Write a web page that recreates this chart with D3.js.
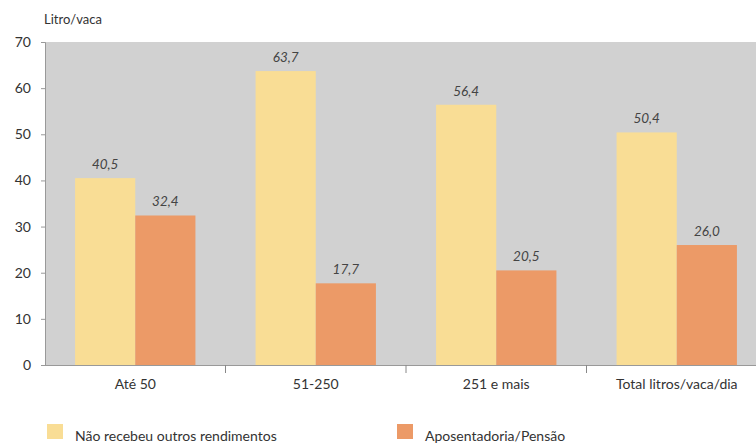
<!DOCTYPE html>
<html>
<head>
<meta charset="utf-8">
<script src="https://cdn.jsdelivr.net/npm/d3@7"></script>
<style>
  html, body { margin: 0; padding: 0; background: #fff; }
  svg { display: block; font-family: Lato, "Open Sans", sans-serif; }
</style>
</head>
<body>
<svg id="chart" width="756" height="446"></svg>
<script>
// Milk yield per cow, by herd-size group
const categories = ["Até 50", "51-250", "251 e mais", "Total litros/vaca/dia"];
const seriesNames = ["Não recebeu outros rendimentos", "Aposentadoria/Pensão"];
const semOutros = [40.5, 63.7, 56.4, 50.4];
const aposentadoria = [32.4, 17.7, 20.5, 26.0];
const yTicks = [0, 10, 20, 30, 40, 50, 60, 70];
const colors = ["#f9dd95", "#ec9a67"];

const svg = d3.select("#chart");
const plotLeft = 45, plotRight = 767, plotTop = 42, plotBottom = 365;

const x = d3.scaleBand().domain(categories).range([plotLeft, plotRight]).paddingInner(0).paddingOuter(0);
const xInner = d3.scaleBand().domain([0, 1]).range([0, x.bandwidth()]).paddingOuter(0.5).paddingInner(0);
const y = d3.scaleLinear().domain([0, 70]).range([plotBottom, plotTop]);

// plot background
svg.append("rect")
  .attr("x", plotLeft).attr("y", plotTop)
  .attr("width", plotRight - plotLeft).attr("height", plotBottom - plotTop)
  .attr("fill", "#d1d1d1");

// bars
const rows = categories.map((c, i) => ({ cat: c, vals: [semOutros[i], aposentadoria[i]] }));
const groups = svg.selectAll("g.grp").data(rows).join("g")
  .attr("class", "grp")
  .attr("transform", d => `translate(${x(d.cat)},0)`);

groups.selectAll("rect").data(d => d.vals.map((v, k) => ({ v, k }))).join("rect")
  .attr("x", d => xInner(d.k))
  .attr("width", xInner.bandwidth())
  .attr("y", d => y(d.v))
  .attr("height", d => y(0) - y(d.v))
  .attr("fill", d => colors[d.k]);

groups.selectAll("text").data(d => d.vals.map((v, k) => ({ v, k }))).join("text")
  .attr("x", d => xInner(d.k) + xInner.bandwidth() / 2)
  .attr("y", d => y(d.v) - 9)
  .attr("text-anchor", "middle")
  .attr("font-style", "italic")
  .attr("font-size", 13.5)
  .attr("fill", "#444")
  .text(d => d.v.toFixed(1).replace(".", ","));

// y axis
const yAxis = svg.append("g")
  .attr("transform", `translate(${plotLeft},0)`)
  .call(d3.axisLeft(y).tickValues(yTicks).tickSize(4).tickPadding(10));
yAxis.select(".domain").attr("stroke", "#999");
yAxis.selectAll(".tick line").attr("stroke", "#999");
yAxis.selectAll(".tick text").attr("font-size", 14).attr("fill", "#333")
  .attr("font-family", "Lato, 'Open Sans', sans-serif");

// x axis
const xAxis = svg.append("g")
  .attr("transform", `translate(0,${plotBottom})`)
  .call(d3.axisBottom(x).tickSize(0).tickPadding(14));
xAxis.select(".domain").attr("stroke", "#999").attr("d", `M${plotLeft},0.5H${plotRight}`);
xAxis.selectAll(".tick text").attr("font-size", 14).attr("fill", "#333")
  .attr("font-family", "Lato, 'Open Sans', sans-serif");
// separators between groups
xAxis.selectAll("line.sep").data(categories.slice(1)).join("line")
  .attr("class", "sep")
  .attr("x1", d => x(d)).attr("x2", d => x(d))
  .attr("y1", 0).attr("y2", 8)
  .attr("stroke", "#888");

// unit label
svg.append("text")
  .attr("x", 44).attr("y", 24)
  .attr("font-size", 13).attr("fill", "#333")
  .text("Litro/vaca");

// legend
const legendX = [47, 397];
const legend = svg.selectAll("g.leg").data(seriesNames).join("g")
  .attr("class", "leg")
  .attr("transform", (d, i) => `translate(${legendX[i]},424)`);
legend.append("rect").attr("width", 16).attr("height", 15).attr("fill", (d, i) => colors[i]);
legend.append("text").attr("x", 28).attr("y", 17)
  .attr("font-size", 14).attr("fill", "#333").text(d => d);
</script>
</body>
</html>
